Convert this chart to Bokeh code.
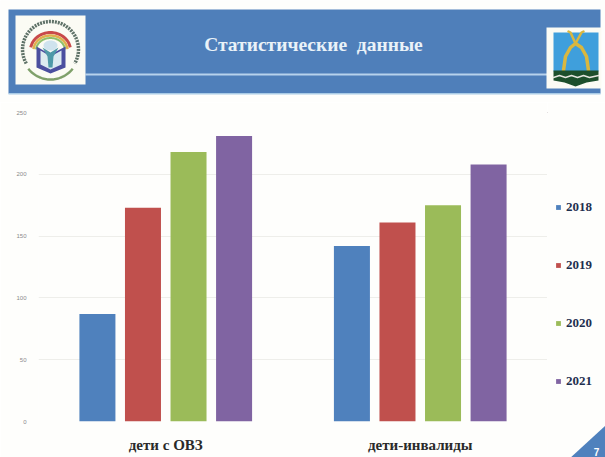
import math
from bokeh.plotting import figure
from bokeh.layouts import column, row
from bokeh.models import FactorRange, Legend, LegendItem, ColumnDataSource, FixedTicker
from bokeh.core.properties import value
from bokeh.transform import dodge
from bokeh.embed import file_html
from bokeh.resources import INLINE

categories = ["дети с ОВЗ", "дети-инвалиды"]
years = ["2018", "2019", "2020", "2021"]
y2018 = [87, 142]
y2019 = [173, 161]
y2020 = [218, 175]
y2021 = [231, 208]
y_ticks = [0, 50, 100, 150, 200, 250]
colors = ["#4F81BD", "#C0504D", "#9BBB59", "#8064A2"]
title_text = "Статистические\u00a0 данные"
page_no = "7"
PAPER = "#fefefc"

def plain(w, h, x0, x1, y0, y1):
    f = figure(width=w, height=h, frame_width=w, frame_height=h, x_range=(x0, x1), y_range=(y0, y1),
               output_backend="svg", toolbar_location=None, min_border=0)
    f.axis.visible = False
    f.grid.visible = False
    f.outline_line_color = None
    f.background_fill_color = PAPER
    f.border_fill_color = PAPER
    return f

# ---------- slide header: data space is page pixels
h = plain(605, 102, 0, 605, 102, 0)

def box(x0, y0, x1, y1, c):
    h.quad(left=[x0], right=[x1], top=[y0], bottom=[y1], fill_color=c, line_color=None)

def ell(cx, cy, rx, ry, c):
    n = 32
    h.patch([cx + rx*math.cos(t*2*math.pi/n) for t in range(n)], [cy + ry*math.sin(t*2*math.pi/n) for t in range(n)],
            fill_color=c, line_color=None)

def arc(cx, cy, rx, ry, a0, a1, c, lw, dash="solid"):
    n = 40
    ts = [math.radians(a0 + (a1-a0)*k/n) for k in range(n+1)]
    h.line([cx + rx*math.cos(t) for t in ts], [cy + ry*math.sin(t) for t in ts], line_color=c, line_width=lw, line_dash=dash)

def poly(pts, c):
    h.patch([a for a, b in pts], [b for a, b in pts], fill_color=c, line_color=None)

def stroke(pts, c, lw):
    h.line([a for a, b in pts], [b for a, b in pts], line_color=c, line_width=lw, line_cap="round", line_join="round")

box(8, 9, 600, 93, "#4F7FBA")
box(8, 92.5, 600, 94, "#A9CBE6")
box(85, 73, 547, 75, "#B7D2EC")
# left emblem
box(15, 15, 85, 84, "#fbfbf4")
arc(50, 49, 28, 28, 150, 390, "#5f7268", 3.5, "2 1")
arc(50, 49, 29, 30, 40, 140, "#7fa06a", 2.5)
arc(50, 50, 20, 18, 190, 350, "#c94a4a", 3)
arc(50, 50, 17, 15, 185, 355, "#e0b04e", 2.5)
arc(50, 50, 14.5, 12.5, 185, 355, "#8fbf6a", 2)
poly([(36, 46), (50, 54), (65, 46), (65, 67), (50, 73), (36, 67)], "#4b4f9f")
poly([(40, 50), (50, 56), (61, 50), (61, 64), (50, 69), (40, 64)], "#dcebf0")
ell(50, 45, 7, 5, "#cfe3ee")
poly([(42, 47), (50, 52), (58, 47), (53, 56), (52, 67), (48, 67), (47, 56)], "#4f9aa8")
# right emblem
box(546, 27, 601, 88, "#fbfbf4")
box(553, 32, 598, 71, "#3f9fdc")
stroke([(563, 70), (565, 56), (570, 47), (575, 43), (581, 47), (586, 56), (588, 70)], "#d9b73f", 3.5)
stroke([(575, 43), (570, 32), (568, 31)], "#d9b73f", 2.5)
stroke([(575, 43), (581, 32), (583, 31)], "#d9b73f", 2.5)
poly([(553, 70), (598, 70), (598, 80), (586, 82), (575, 86), (564, 82), (553, 80)], "#1c4f2c")
stroke([(553, 77), (559, 75), (565, 77), (571, 75), (577, 77), (583, 75), (589, 77), (598, 75)], "#e6e6e0", 1.5)
h.text(x=[313], y=[44], text=[title_text], text_align="center", text_baseline="middle", text_color="#eaf2f8",
       text_font=value("Liberation Serif"), text_font_style="bold", text_font_size="19.5px")

# ---------- the chart
FL, FRAME_W, FT, FRAME_H, FB = 38, 509, 10, 309, 36
p = figure(width=FL+FRAME_W, height=FT+FRAME_H+FB, frame_width=FRAME_W, frame_height=FRAME_H,
           x_range=FactorRange(factors=categories, range_padding=0), y_range=(0, 250),
           output_backend="svg", toolbar_location=None,
           min_border_left=FL, min_border_right=0, min_border_top=FT, min_border_bottom=FB)
p.outline_line_color = None
p.background_fill_color = PAPER
p.border_fill_color = PAPER
src = ColumnDataSource(dict(cat=categories, y2018=y2018, y2019=y2019, y2020=y2020, y2021=y2021))
step, bw = 0.179, 0.1415
for i, (yr, c) in enumerate(zip(years, colors)):
    p.vbar(x=dodge("cat", (i-1.5)*step, range=p.x_range), top="y"+yr, width=bw, color=c, line_color=None, source=src)
p.xgrid.visible = False
p.ygrid.grid_line_color = "#eeeeea"
p.ygrid.ticker = FixedTicker(ticks=y_ticks)
p.yaxis.ticker = FixedTicker(ticks=y_ticks)
for ax in (p.xaxis[0], p.yaxis[0]):
    ax.axis_line_color = None
    ax.major_tick_line_color = None
    ax.minor_tick_line_color = None
p.yaxis.major_label_text_font_size = "6px"
p.yaxis.major_label_text_color = "#8a8a8a"
p.yaxis.major_label_standoff = 6
p.xaxis.major_label_text_font = "Liberation Serif"
p.xaxis.major_label_text_font_style = "bold"
p.xaxis.major_label_text_font_size = "15px"
p.xaxis.major_label_text_color = "#2a2a2a"
p.xaxis.major_label_standoff = 9

# ---------- side strip: legend and page corner
s = plain(58, 355, 547, 605, 457, 102)
items = []
for yr, c in zip(years, colors):
    r = s.vbar(x=[0], top=[0], width=1, color=c, line_color=None)
    items.append(LegendItem(label=yr, renderers=[r]))
leg = Legend(items=items, location=(8, 68), orientation="vertical", border_line_color=None,
             background_fill_alpha=0, glyph_width=6, glyph_height=6, spacing=42, padding=0, margin=0,
             label_text_font="Liberation Serif", label_text_font_style="bold",
             label_text_font_size="13px", label_text_color="#1f2f4f", label_standoff=5, label_height=14)
s.add_layout(leg, "center")
s.patch([568, 605, 605], [449, 415, 449], fill_color="#4F81BD", line_color=None)
s.text(x=[596], y=[441], text=[page_no], text_align="center", text_baseline="middle", text_color="#ffffff",
       text_font_style="bold", text_font_size="10px")

page = column(h, row(p, s, spacing=0), spacing=0)
open("out.html", "w").write(file_html(page, INLINE))
